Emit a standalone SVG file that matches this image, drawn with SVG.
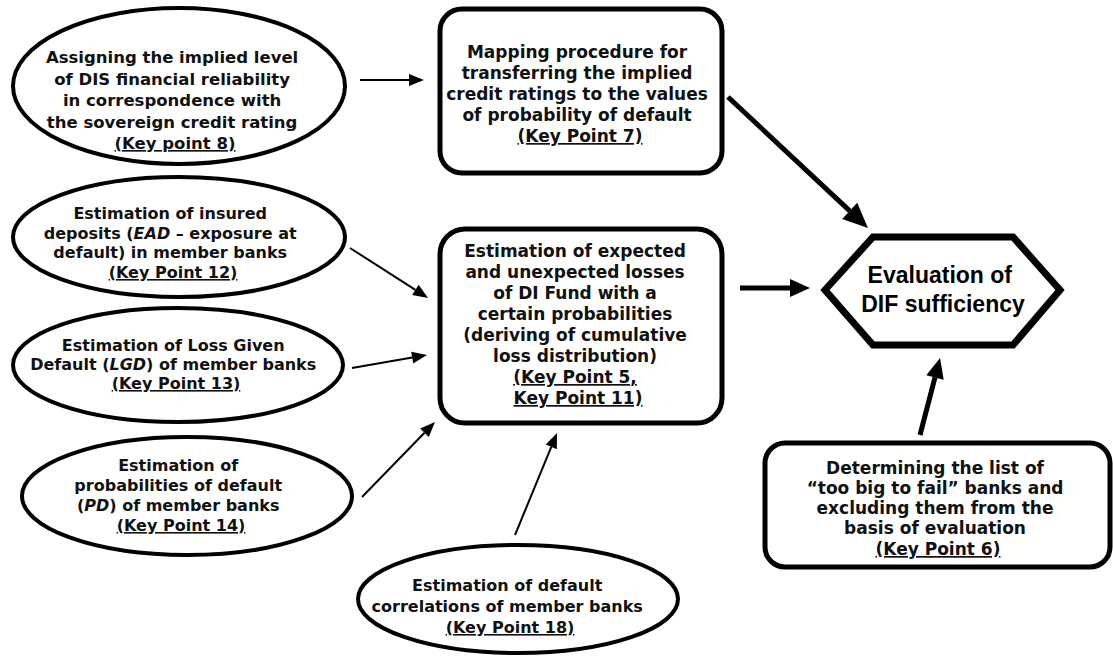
<svg xmlns="http://www.w3.org/2000/svg" width="1113" height="661" viewBox="0 0 1113 661">
<style>
.bg{fill:#fff}
.ell{fill:#fff;stroke:#000;stroke-width:4}
.box{fill:#fff;stroke:#000;stroke-width:5}
.hex{fill:#fff;stroke:#000;stroke-width:7;stroke-linejoin:miter}
.t{font-family:"DejaVu Sans","Verdana",sans-serif;font-weight:bold;font-size:16px;fill:#111;text-anchor:middle}
.tb{font-size:17px}
.th{font-family:"Liberation Sans",Arial,sans-serif;font-weight:bold;font-size:23px;fill:#000;text-anchor:middle}
.u{text-decoration:underline}
.i{font-style:italic}
.thin{stroke:#000;stroke-width:2;fill:none}
.thick{stroke:#000;stroke-width:5;fill:none}
</style>
<defs>
<marker id="ah" markerUnits="userSpaceOnUse" markerWidth="15" markerHeight="12" refX="0" refY="6" orient="auto" overflow="visible"><path d="M0,0 L15,6 L0,12 z" fill="#000"/></marker>
<marker id="ahk" markerUnits="userSpaceOnUse" markerWidth="20" markerHeight="18" refX="0" refY="9" orient="auto" overflow="visible"><path d="M0,0 L20,9 L0,18 z" fill="#000"/></marker>
<marker id="ahb" markerUnits="userSpaceOnUse" markerWidth="25" markerHeight="22" refX="0" refY="11" orient="auto" overflow="visible"><path d="M0,0 L25,11 L0,22 z" fill="#000"/></marker>
</defs>
<rect class="bg" x="0" y="0" width="1113" height="661"/>

<g id="connectors">
<line class="thin" x1="360" y1="80" x2="409" y2="80" marker-end="url(#ah)"/>
<line class="thick" x1="728" y1="97" x2="849.7" y2="210.9" marker-end="url(#ahb)"/>
<line class="thin" x1="350" y1="248" x2="415.4" y2="289.9" marker-end="url(#ah)"/>
<line class="thin" x1="352" y1="368" x2="412.2" y2="357.6" marker-end="url(#ah)"/>
<line class="thin" x1="362" y1="497" x2="424.5" y2="432.7" marker-end="url(#ah)"/>
<line class="thin" x1="515" y1="535" x2="551.3" y2="446.9" marker-end="url(#ah)"/>
<line class="thick" x1="740" y1="288" x2="790" y2="288" marker-end="url(#ahk)"/>
<line class="thick" x1="920" y1="435" x2="935" y2="377.4" marker-end="url(#ahk)"/>
</g>

<g id="kp8">
<ellipse class="ell" cx="179" cy="86" rx="166" ry="78"/>
<text class="t" style="font-size:16.5px">
<tspan x="175" y="63">Assigning the implied level</tspan>
<tspan x="175" y="85">of DIS financial reliability</tspan>
<tspan x="175" y="106">in correspondence with</tspan>
<tspan x="175" y="128">the sovereign credit rating</tspan>
<tspan x="175" y="149" class="u">(Key point 8)</tspan>
</text>
</g>

<g id="kp7">
<rect class="box" x="440" y="9" width="282" height="164" rx="22"/>
<text class="t tb">
<tspan x="580" y="58">Mapping procedure for</tspan>
<tspan x="580" y="79">transferring the implied</tspan>
<tspan x="580" y="100">credit ratings to the values</tspan>
<tspan x="580" y="121">of probability of default</tspan>
<tspan x="580" y="142" class="u">(Key Point 7)</tspan>
</text>
</g>

<g id="kp12">
<ellipse class="ell" cx="179" cy="237" rx="166" ry="60"/>
<text class="t">
<tspan x="173" y="219">Estimation of insured</tspan>
<tspan x="173" y="239">deposits (<tspan class="i">EAD</tspan> – exposure at</tspan>
<tspan x="173" y="258">default) in member banks</tspan>
<tspan x="173" y="278" class="u">(Key Point 12)</tspan>
</text>
</g>

<g id="kp13">
<ellipse class="ell" cx="178" cy="365" rx="165" ry="57"/>
<text class="t">
<tspan x="176" y="351">Estimation of Loss Given</tspan>
<tspan x="176" y="370">Default (<tspan class="i">LGD</tspan>) of member banks</tspan>
<tspan x="176" y="389" class="u">(Key Point 13)</tspan>
</text>
</g>

<g id="kp14">
<ellipse class="ell" cx="187" cy="496" rx="165" ry="59"/>
<text class="t">
<tspan x="181" y="471">Estimation of</tspan>
<tspan x="181" y="491">probabilities of default</tspan>
<tspan x="181" y="511">(<tspan class="i">PD</tspan>) of member banks</tspan>
<tspan x="181" y="531" class="u">(Key Point 14)</tspan>
</text>
</g>

<g id="kp18">
<ellipse class="ell" cx="518" cy="599" rx="160" ry="54"/>
<text class="t">
<tspan x="510" y="591">Estimation of default</tspan>
<tspan x="510" y="612">correlations of member banks</tspan>
<tspan x="510" y="633" class="u">(Key Point 18)</tspan>
</text>
</g>

<g id="kp5">
<rect class="box" x="440" y="229" width="282" height="194" rx="25"/>
<text class="t tb">
<tspan x="578" y="257">Estimation of expected</tspan>
<tspan x="578" y="278">and unexpected losses</tspan>
<tspan x="578" y="299">of DI Fund with a</tspan>
<tspan x="578" y="320">certain probabilities</tspan>
<tspan x="578" y="341">(deriving of cumulative</tspan>
<tspan x="578" y="362">loss distribution)</tspan>
<tspan x="578" y="383" class="u">(Key Point 5,</tspan>
<tspan x="578" y="404" class="u">Key Point 11)</tspan>
</text>
</g>

<g id="dif">
<polygon class="hex" points="825,290 873,237 1013,237 1060,290 1013,345 873,345"/>
<text class="th">
<tspan x="943" y="283">Evaluation of</tspan>
<tspan x="943" y="312">DIF sufficiency</tspan>
</text>
</g>

<g id="kp6">
<rect class="box" x="765" y="443" width="345" height="124" rx="20"/>
<text class="t tb">
<tspan x="938" y="474">Determining the list of</tspan>
<tspan x="938" y="494">“too big to fail” banks and</tspan>
<tspan x="938" y="514">excluding them from the</tspan>
<tspan x="938" y="534">basis of evaluation</tspan>
<tspan x="938" y="555" class="u">(Key Point 6)</tspan>
</text>
</g>
</svg>
